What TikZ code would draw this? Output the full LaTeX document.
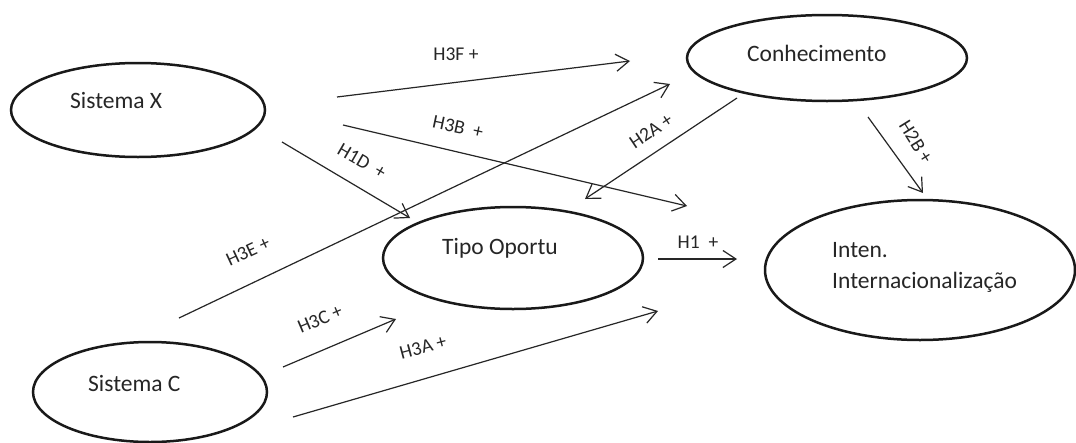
\documentclass[tikz,border=0pt]{standalone}
\usepackage{fontspec}
\setmainfont{Carlito}
\usetikzlibrary{shapes.geometric,arrows.meta}
\begin{document}
\begin{tikzpicture}[x=1pt,y=-1pt,
  oval/.style={draw=black!90, ellipse, line width=2.5pt, inner sep=0pt},
  ttl/.style={font=\fontsize{23.5}{27}\selectfont, text=black!85, anchor=base west, inner sep=0pt},
  hyp/.style={-{Straight Barb[length=13pt,width=17pt,line width=1.2pt]}, line width=1.2pt, draw=black!85},
  lbl/.style={font=\fontsize{19.5}{22}\selectfont, text=black!85, inner sep=0pt}]
\useasboundingbox (0,0) rectangle (1076,442);
\fill[white] (0,0) rectangle (1076,442);

% ellipses
\node[oval, minimum width=254pt, minimum height=94pt] (sx) at (138,110) {};
\node[oval, minimum width=280pt, minimum height=86pt] (con) at (827,58) {};
\node[oval, minimum width=260pt, minimum height=102pt] (tipo) at (513,258) {};
\node[oval, minimum width=310pt, minimum height=140pt] (inten) at (920,270) {};
\node[oval, minimum width=234pt, minimum height=100pt] (sc) at (150,392) {};

% texts
\node[ttl] (tsx) at (70,108) {Sistema X};
\node[ttl] (tcon) at (747,61) {Conhecimento};
\node[ttl] (ttipo) at (442,254) {Tipo Oportu};
\node[ttl] (tint1) at (832,257) {Inten.};
\node[ttl] (tint2) at (832,288) {Internacionaliza\c{c}\~ao};
\node[ttl] (tsc) at (88,391) {Sistema C};

% arrow end points
\coordinate (h3fS) at (337,97);  \coordinate (h3fE) at (630,61);
\coordinate (h3bS) at (343,125); \coordinate (h3bE) at (687,206);
\coordinate (h1dS) at (282,142); \coordinate (h1dE) at (410,218);
\coordinate (h3eS) at (179,318); \coordinate (h3eE) at (670,84);
\coordinate (h2aS) at (737,98);  \coordinate (h2aE) at (585,199);
\coordinate (h2bS) at (868,117); \coordinate (h2bE) at (923,193);
\coordinate (h1S) at (658,259);  \coordinate (h1E) at (737,259);
\coordinate (h3cS) at (283,367); \coordinate (h3cE) at (396,319);
\coordinate (h3aS) at (293,417); \coordinate (h3aE) at (658,311);

\draw[hyp] (h3fS) -- (h3fE);
\draw[hyp] (h3bS) -- (h3bE);
\draw[hyp] (h1dS) -- (h1dE);
\draw[hyp] (h3eS) -- (h3eE);
\draw[hyp] (h2aS) -- (h2aE);
\draw[hyp] (h2bS) -- (h2bE);
\draw[hyp] (h1S) -- (h1E);
\draw[hyp] (h3cS) -- (h3cE);
\draw[hyp] (h3aS) -- (h3aE);

% labels
\node[lbl] (l3f) at (456,54) {H3F +};
\node[lbl, rotate=-12] (l3b) at (458,127) {H3B~~+};
\node[lbl, rotate=-30] (l1d) at (362,161) {H1D~~+};
\node[lbl, rotate=34] (l2a) at (651,131) {H2A +};
\node[lbl, rotate=-58] (l2b) at (916,142) {H2B +};
\node[lbl, rotate=25] (l3e) at (248,251) {H3E +};
\node[lbl] (l1) at (698,242) {H1~~+};
\node[lbl, rotate=23] (l3c) at (320,319) {H3C +};
\node[lbl, rotate=15] (l3a) at (423,347) {H3A +};
\end{tikzpicture}
\end{document}
